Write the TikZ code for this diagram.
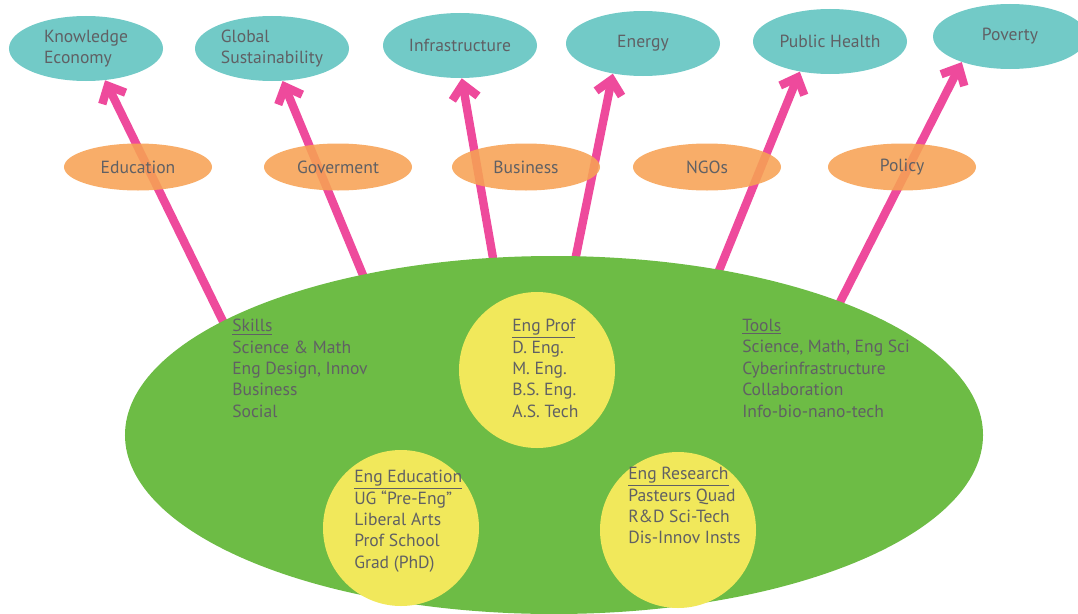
\documentclass[tikz,border=0pt]{standalone}
\usepackage{fontspec}
\setmainfont{PT Sans}
\usetikzlibrary{arrows.meta, shapes.geometric, backgrounds}
\definecolor{goalteal}{RGB}{114,202,199}
\definecolor{sectororange}{RGB}{247,162,84}
\definecolor{basegreen}{RGB}{109,188,69}
\definecolor{hubyellow}{RGB}{241,232,91}
\definecolor{pushpink}{RGB}{238,74,156}
\definecolor{txtgray}{RGB}{96,96,100}

\begin{document}
\begin{tikzpicture}[x=0.25mm, y=-0.25mm, font=\fontsize{12.5}{15.2}\selectfont, text=txtgray,
    goal/.style={ellipse, fill=goalteal, minimum width=38.5mm, minimum height=16.25mm, inner sep=0pt, align=left},
    sector/.style={ellipse, fill=sectororange, fill opacity=.88, text opacity=1, minimum width=37mm, minimum height=11.75mm, inner sep=0pt},
    hub/.style={circle, fill=hubyellow, minimum size=39mm, inner sep=0pt},
    list/.style={anchor=north west, align=left, inner sep=0pt},
    push/.style={draw=pushpink, line width=2.1mm, -{Straight Barb[length=3.5mm,width=6.5mm]}, shorten <=-2mm}]
  \useasboundingbox (0,0) rectangle (1078,613);
  \clip (0,0) rectangle (1078,613);
  % goals
  \node[goal] (G1) at (86,48.5) {Knowledge\\Economy};
  \node[goal] (G2) at (272,48.5) {Global\\Sustainability};
  \node[goal] (G3) at (460,45.5) {Infrastructure};
  \node[goal] (G4) at (643,43.5) {Energy};
  \node[goal] (G5) at (830,41.5) {Public Health};
  \node[goal] (G6) at (1010,36.5) {Poverty};
  % sectors
  \foreach \x/\name in {138/Education, 338/Goverment, 526/Business, 707/NGOs, 902/Policy}{
    \node[sector] (S\name) at (\x,167) {\name};
  }
  % base
  \node[ellipse, fill=basegreen, minimum width=214.5mm, minimum height=89.5mm, inner sep=0pt] (E) at (554,435) {};
  \node[hub] (P) at (537,370) {};
  \node[hub] (D) at (401,528) {};
  \node[hub] (R) at (678,530) {};
  \node[list] (skills) at (232,319) {\underline{Skills}\\Science \& Math\\Eng Design, Innov\\Business\\Social};
  \node[list] (prof) at (512,319) {\underline{Eng Prof}\\D. Eng.\\M. Eng.\\B.S. Eng.\\A.S. Tech};
  \node[list] (tools) at (742,319) {\underline{Tools}\\Science, Math, Eng Sci\\Cyberinfrastructure\\Collaboration\\Info-bio-nano-tech};
  \node[list] (edu) at (354,470) {\underline{Eng Education}\\UG “Pre-Eng”\\Liberal Arts\\Prof School\\Grad (PhD)};
  \node[list] (res) at (628,467) {\underline{Eng Research}\\Pasteurs Quad\\R\&D Sci-Tech\\Dis-Innov Insts};
  % arrows
  \begin{scope}[on background layer]
    \foreach \s/\g/\t in {161/1/-59, 140/2/-72, 109/3/-87, 83/4/-135, 45/5/-135, 25/6/-152}{
      \draw[push] (E.\s) -- (G\g.\t);
    }
  \end{scope}
\end{tikzpicture}
\end{document}
